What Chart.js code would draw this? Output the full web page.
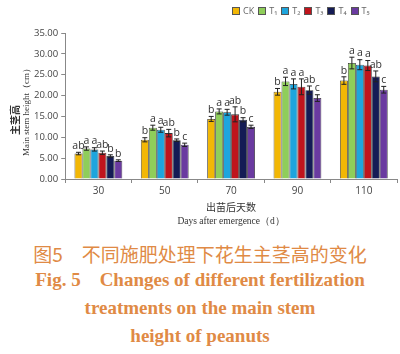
<!DOCTYPE html>
<html>
<head>
<meta charset="utf-8">
<script src="https://cdn.jsdelivr.net/npm/chart.js@4"></script>
<style>
  html,body{margin:0;padding:0;background:#fff;}
  #wrap{position:relative;width:400px;height:354px;overflow:hidden;}
  #box{position:absolute;left:0;top:0;width:400px;height:230px;}
  #legend{position:absolute;left:228px;top:4px;font:9px "Open Sans",sans-serif;color:#666;white-space:nowrap;}
  #legend span.sw{display:inline-block;width:6px;height:6px;border:1px solid #555;margin:0 3px 0 4px;vertical-align:-1px;}
  .cap{position:absolute;left:0;width:400px;text-align:center;color:#e08a45;}
  .cn{top:240px;font:19px "Noto Sans CJK SC",sans-serif;}
  .en{font:bold 19px "Liberation Serif","Times New Roman",serif;}
</style>
</head>
<body>
<div id="wrap">
  <div id="box"><canvas id="c"></canvas></div>
  <div id="legend"></div>
  <div class="cap cn">图5　不同施肥处理下花生主茎高的变化</div>
  <div class="cap en" style="top:269px">Fig. 5&nbsp;&nbsp;&nbsp;&nbsp;Changes of different fertilization</div>
  <div class="cap en" style="top:297px">treatments on the main stem</div>
  <div class="cap en" style="top:325px">height of peanuts</div>
</div>
<script>
const days = ['30','50','70','90','110'];
const seriesNames = ['CK','T₁','T₂','T₃','T₄','T₅'];
const colors = ['#f2b705','#8fce5a','#1ea5dd','#c0141c','#141b55','#6a3aa0'];
const ck = [6.1, 9.4, 14.4, 20.9, 23.6];
const t1 = [7.3, 12.3, 16.2, 23.4, 27.8];
const t2 = [7.1, 11.8, 16.0, 22.8, 27.4];
const t3 = [6.3, 11.0, 15.5, 22.1, 27.2];
const t4 = [5.5, 9.3, 14.2, 21.3, 24.6];
const t5 = [4.4, 8.2, 12.5, 19.4, 21.4];
const errCk = [0.3, 0.5, 0.6, 0.8, 0.9];
const errT1 = [0.4, 0.6, 0.6, 1.0, 1.4];
const errT2 = [0.4, 0.6, 0.7, 1.2, 1.2];
const errT3 = [0.4, 0.9, 1.8, 1.9, 1.2];
const errT4 = [0.3, 0.3, 0.5, 1.0, 1.3];
const errT5 = [0.2, 0.4, 0.4, 0.8, 0.8];
const lettersCk = ['ab','b','b','b','b'];
const lettersT1 = ['a','a','a','a','a'];
const lettersT2 = ['a','a','a','a','a'];
const lettersT3 = ['ab','ab','ab','a','a'];
const lettersT4 = ['b','b','b','ab','ab'];
const lettersT5 = ['b','c','c','c','c'];
const yTicks = [0,5,10,15,20,25,30,35];
const yTitleCn = '主茎高', yTitleEn = 'Main stem height（cm）';
const xTitleCn = '出苗后天数', xTitleEn = 'Days after emergence（d）';

const values = [ck,t1,t2,t3,t4,t5];
const errs = [errCk,errT1,errT2,errT3,errT4,errT5];
const letters = [lettersCk,lettersT1,lettersT2,lettersT3,lettersT4,lettersT5];

document.getElementById('legend').innerHTML = seriesNames.map((n,i)=>`<span class="sw" style="background:${colors[i]}"></span>${n}`).join('');

const errPlugin = {
  id:'errbars',
  afterDatasetsDraw(chart){
    const ctx = chart.ctx, y = chart.scales.y;
    ctx.save();
    chart.data.datasets.forEach((ds,i)=>{
      chart.getDatasetMeta(i).data.forEach((bar,j)=>{
        const v = ds.data[j], e = errs[i][j];
        const yt = y.getPixelForValue(v+e), yb = y.getPixelForValue(v-e);
        ctx.strokeStyle = '#222'; ctx.lineWidth = 1;
        ctx.beginPath();
        ctx.moveTo(bar.x, yt); ctx.lineTo(bar.x, yb);
        ctx.moveTo(bar.x-2.5, yt); ctx.lineTo(bar.x+2.5, yt);
        ctx.moveTo(bar.x-2.5, yb); ctx.lineTo(bar.x+2.5, yb);
        ctx.stroke();
        ctx.fillStyle = '#333';
        ctx.font = '10.5px "Open Sans", sans-serif';
        ctx.textAlign = 'center'; ctx.textBaseline = 'bottom';
        ctx.fillText(letters[i][j], bar.x, yt - 1);
      });
    });
    ctx.restore();
  }
};

// axis titles: Chinese line and English line in different fonts
const titlePlugin = {
  id:'axisTitles',
  afterDraw(chart){
    const ctx = chart.ctx, a = chart.chartArea;
    ctx.save();
    ctx.fillStyle = '#333';
    ctx.textAlign = 'center'; ctx.textBaseline = 'middle';
    ctx.translate(15, 120); ctx.rotate(-Math.PI/2);
    ctx.font = 'bold 10px "Noto Sans CJK SC", sans-serif';
    ctx.fillText(yTitleCn, 0, 0);
    ctx.restore();
    ctx.save();
    ctx.fillStyle = '#333';
    ctx.textAlign = 'center'; ctx.textBaseline = 'middle';
    ctx.translate(27, 110); ctx.rotate(-Math.PI/2);
    ctx.font = '9px "Liberation Serif", serif';
    ctx.fillText(yTitleEn, 0, 0);
    ctx.restore();
    ctx.save();
    ctx.fillStyle = '#333';
    ctx.textAlign = 'center'; ctx.textBaseline = 'middle';
    const cx = (a.left + a.right)/2;
    ctx.font = '10px "Noto Sans CJK SC", sans-serif';
    ctx.fillText(xTitleCn, cx, 207);
    ctx.font = '9.5px "Liberation Serif", serif';
    ctx.fillText(xTitleEn, cx, 221);
    ctx.restore();
  }
};

new Chart(document.getElementById('c'),{
  type:'bar',
  data:{labels:days,datasets:seriesNames.map((n,i)=>({label:n,data:values[i],backgroundColor:colors[i],borderColor:'#333',borderWidth:0.8,barPercentage:1,categoryPercentage:0.72}))},
  options:{
    responsive:true,maintainAspectRatio:false,animation:false,
    layout:{padding:{top:33,right:3,left:31,bottom:31}},
    plugins:{legend:{display:false},tooltip:{enabled:false}},
    scales:{
      x:{
        grid:{display:true,drawOnChartArea:false,drawTicks:true,tickLength:4,color:'#888',offset:true},
        border:{color:'#888'},
        ticks:{color:'#444',font:{size:10,family:'"Open Sans", sans-serif'},padding:2}
      },
      y:{
        min:0,max:35,
        afterBuildTicks(s){s.ticks = yTicks.map(v=>({value:v}));},
        grid:{display:true,drawOnChartArea:false,drawTicks:true,tickLength:4,color:'#888'},
        border:{color:'#888'},
        ticks:{color:'#444',font:{size:9.5,family:'"Open Sans", sans-serif'},padding:3,callback:v=>Number(v).toFixed(2)}
      }
    }
  },
  plugins:[errPlugin,titlePlugin]
});
</script>
</body>
</html>
